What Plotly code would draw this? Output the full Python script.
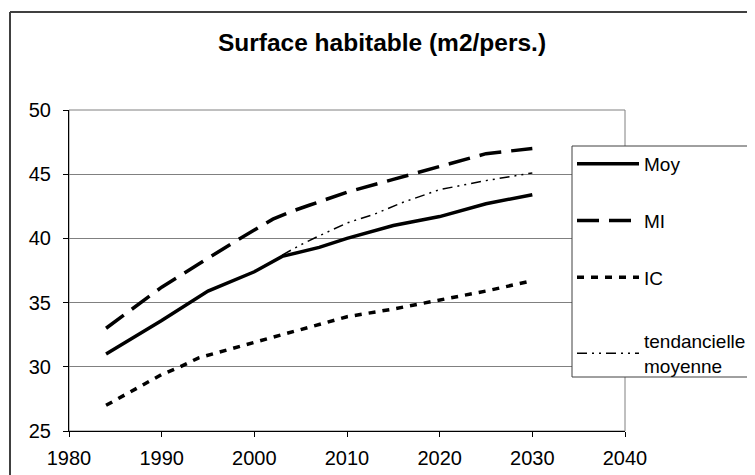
import plotly.graph_objects as go

# ---- data ----
moy_years = [1984, 1990, 1995, 2000, 2003, 2007, 2010, 2015, 2020, 2025, 2030]
moy_vals = [31.0, 33.6, 35.9, 37.4, 38.6, 39.3, 40.0, 41.0, 41.7, 42.7, 43.4]

mi_years = [1984, 1987, 1990, 1994, 1998, 2002, 2004, 2006, 2010, 2015, 2020, 2025, 2030]
mi_vals = [33.0, 34.6, 36.2, 38.0, 39.8, 41.5, 42.1, 42.6, 43.6, 44.6, 45.6, 46.6, 47.0]

ic_years = [1984, 1990, 1992, 1994, 2000, 2002, 2007, 2010, 2015, 2020, 2025, 2030]
ic_vals = [27.0, 29.4, 30.0, 30.7, 31.9, 32.3, 33.3, 33.9, 34.5, 35.2, 35.9, 36.7]

tend_years = [2003, 2005, 2007, 2010, 2013, 2016, 2020, 2025, 2030]
tend_vals = [38.7, 39.5, 40.2, 41.2, 41.9, 42.8, 43.8, 44.5, 45.1]

series_names = ["Moy", "MI", "IC", "tendancielle<br>moyenne"]
x_ticks = [1980, 1990, 2000, 2010, 2020, 2030, 2040]
y_ticks = [25, 30, 35, 40, 45, 50]
title_text = "Surface habitable (m2/pers.)"

FONT = "Liberation Sans, Arial, sans-serif"
OFF = 8  # page body margin offset

fig = go.Figure()
styles = [
    dict(width=3.5, dash="solid"),
    dict(width=3.5, dash="22px,10px"),
    dict(width=3.5, dash="7px,7px"),
    dict(width=1.5, dash="10px,5px,2px,5px,2px,5px"),
]
legend_ids = ["legend", "legend", "legend", "legend2"]
data = [(moy_years, moy_vals), (mi_years, mi_vals), (ic_years, ic_vals), (tend_years, tend_vals)]
for i, ((xs, ys), name, st, lg) in enumerate(zip(data, series_names, styles, legend_ids)):
    fig.add_trace(go.Scatter(
        x=xs, y=ys, mode="lines", name=name, legendgroup=f"g{i}", legend=lg,
        line=dict(color="black", width=st["width"], dash=st["dash"]),
    ))

W, H = 755, 475
# target plot area in screenshot pixels
PL, PR, PT, PB = 69, 625, 110, 431
L, T = PL - OFF, PT - OFF
R, B = W - (PR - OFF), H - (PB - OFF)
pw, ph = PR - PL, PB - PT

def px_x(p):
    return (p - PL) / pw

def px_y(p):
    return (PB - p) / ph

legend_common = dict(xref="paper", yref="paper", xanchor="left", yanchor="top",
                     borderwidth=0, bgcolor="rgba(0,0,0,0)",
                     traceorder="grouped", tracegroupgap=29, itemwidth=62,
                     font=dict(size=19, family=FONT, color="black"))

line_style = dict(color="#404040", width=1)
frame_col = "#404040"

fig.update_layout(
    width=W, height=H,
    margin=dict(l=L, r=R, t=T, b=B),
    paper_bgcolor="white", plot_bgcolor="white",
    font=dict(family=FONT, size=20, color="black"),
    title=dict(text=f"<b>{title_text}</b>", xref="container", yref="container",
               x=(382 - OFF) / W, y=1 - (42 - OFF) / H, xanchor="center", yanchor="middle",
               font=dict(size=24.5, family=FONT, color="black")),
    showlegend=True,
    legend=dict(x=px_x(572), y=px_y(145), **legend_common),
    legend2=dict(x=px_x(572), y=px_y(322), **legend_common),
    xaxis=dict(range=[1980, 2040], tickvals=x_ticks, showgrid=False, zeroline=False,
               showline=True, linecolor="black", linewidth=1,
               ticks="outside", ticklen=5, tickcolor="black", ticklabelstandoff=4,
               tickfont=dict(size=20, family=FONT)),
    yaxis=dict(range=[25, 50], tickvals=y_ticks, showgrid=True, gridcolor="#808080", gridwidth=1,
               zeroline=False, showline=True, linecolor="black", linewidth=1,
               ticks="outside", ticklen=5, tickcolor="black", ticklabelstandoff=8,
               tickfont=dict(size=20, family=FONT)),
    shapes=[
        # plot area frame
        dict(type="rect", xref="paper", yref="paper", x0=0, x1=1, y0=0, y1=1,
             line=dict(color="#808080", width=1), layer="below"),
        # outer chart frame (only left and top edges are visible in the crop)
        dict(type="line", xref="paper", yref="paper", x0=px_x(10), x1=px_x(900),
             y0=px_y(12), y1=px_y(12), line=dict(color=frame_col, width=2), layer="below"),
        dict(type="line", xref="paper", yref="paper", x0=px_x(10), x1=px_x(10),
             y0=px_y(12), y1=px_y(600), line=dict(color=frame_col, width=2), layer="below"),
        # legend frame (extends past the right edge)
        dict(type="rect", xref="paper", yref="paper", x0=px_x(572), x1=px_x(900),
             y0=px_y(377), y1=px_y(146), line=dict(width=0),
             fillcolor="white", layer="above"),
        dict(type="line", xref="paper", yref="paper", x0=px_x(572), x1=px_x(900),
             y0=px_y(146), y1=px_y(146), line=line_style, layer="above"),
        dict(type="line", xref="paper", yref="paper", x0=px_x(572), x1=px_x(900),
             y0=px_y(377), y1=px_y(377), line=line_style, layer="above"),
        dict(type="line", xref="paper", yref="paper", x0=px_x(572), x1=px_x(572),
             y0=px_y(146), y1=px_y(377), line=line_style, layer="above"),
    ],
)

fig.write_html("out.html")
